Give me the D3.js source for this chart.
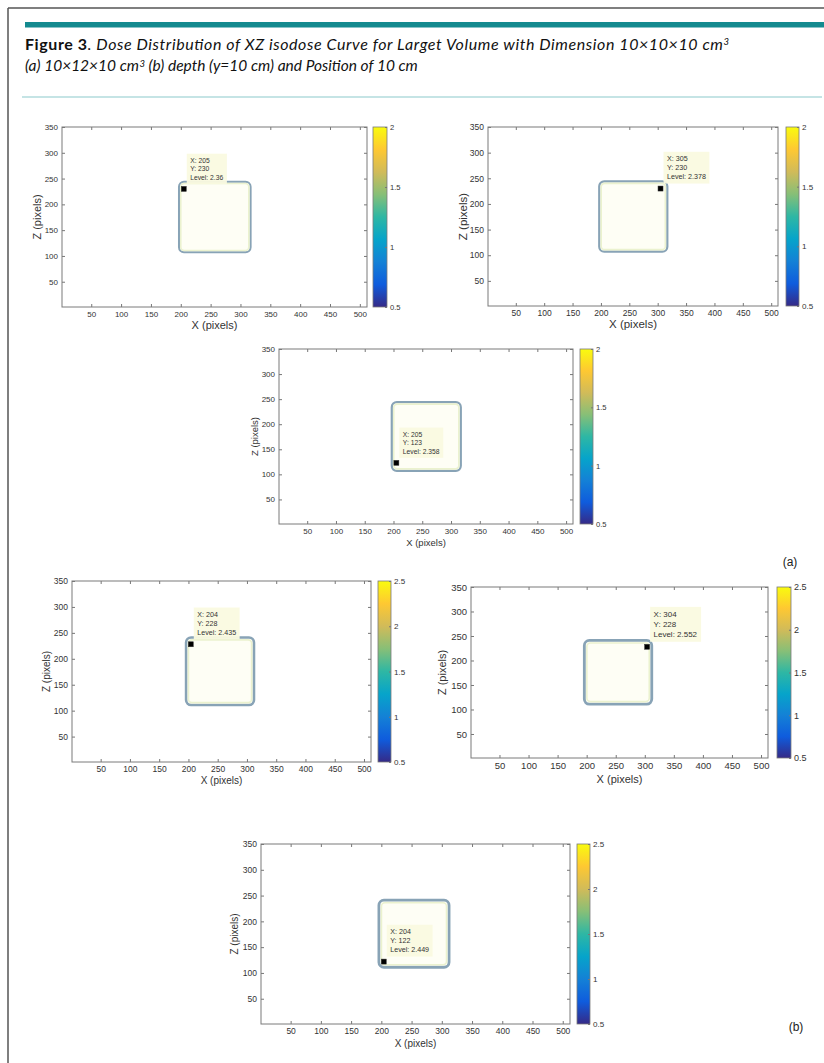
<!DOCTYPE html>
<html>
<head>
<meta charset="utf-8">
<script src="https://cdn.jsdelivr.net/npm/d3@7"></script>
<style>
  html, body { margin: 0; padding: 0; background: #fff; }
  svg { display: block; }
  .tick text { fill: #333; font-family: "Liberation Sans", Arial, sans-serif; }
</style>
</head>
<body>
<div id="chart"></div>
<script>
// Figure 3 - XZ isodose curves, six MATLAB-style contour panels

// ---- data ----
const xTicks = [50, 100, 150, 200, 250, 300, 350, 400, 450, 500];
const zTicks = [50, 100, 150, 200, 250, 300, 350];
const xDomain = [1, 512];
const zDomain = [1, 350];

const panelGroup = ['a', 'a', 'a', 'b', 'b', 'b'];
const tipX = [205, 305, 205, 204, 304, 204];
const tipZ = [230, 230, 123, 228, 228, 122];
const tipLevel = ['2.36', '2.378', '2.358', '2.435', '2.552', '2.449'];

// isodose contour extents (x0, x1) and (z0, z1) for each group
const contourXA = [197, 317];
const contourZA = [107, 244];
const contourXB = [196, 312];
const contourZB = [111, 241];

// colorbar ranges and ticks
const cbarDomainA = [0.5, 2];
const cbarDomainB = [0.5, 2.5];
const cbarTicksA = [0.5, 1, 1.5, 2];
const cbarTicksB = [0.5, 1, 1.5, 2, 2.5];

// parula colormap, bottom to top
const parula = ['#352a87', '#0f5cdd', '#1481d6', '#06a4ca', '#2eb7a4',
                '#87bf77', '#d1bb59', '#fec832', '#f9fb0e'];

const captionBold = 'Figure 3';
const captionLine1 = '. Dose Distribution of XZ isodose Curve for Larget Volume with Dimension 10×10×10 cm';
const captionLine2a = '(a) 10×12×10 cm';
const captionLine2b = ' (b) depth (y=10 cm) and Position of 10 cm';

// ---- layout (pixel boxes of each axes: left, top, right, bottom, colorbar left, right) ----
const layout = [
  { box: [62, 127, 367, 307], cb: [373, 387], fs: 8, lfs: 11, xl: 19, zl: 24, sw: 2 },
  { box: [488, 127, 778, 306], cb: [786, 799], fs: 8.5, lfs: 11.5, xl: 19, zl: 24, sw: 2.2 },
  { box: [279, 349, 573, 524], cb: [580, 593], fs: 8, lfs: 9.5, xl: 19, zl: 24, sw: 2.2 },
  { box: [72, 581, 371, 762], cb: [378, 391], fs: 8.5, lfs: 10, xl: 19.5, zl: 25, sw: 2.6 },
  { box: [471, 587, 768, 758], cb: [777, 791], fs: 9.5, lfs: 11, xl: 22, zl: 28, sw: 2.8 },
  { box: [261, 844, 570, 1024], cb: [577, 590], fs: 8.5, lfs: 10, xl: 20, zl: 26, sw: 2.8 }
];

const width = 824, height = 1063;
const svg = d3.select('#chart').append('svg')
  .attr('width', width)
  .attr('height', height);

// colorbar gradient
const defs = svg.append('defs');
const grad = defs.append('linearGradient')
  .attr('id', 'parula')
  .attr('x1', 0).attr('x2', 0).attr('y1', 1).attr('y2', 0);
grad.selectAll('stop')
  .data(parula)
  .enter().append('stop')
  .attr('offset', (d, i) => i / (parula.length - 1))
  .attr('stop-color', d => d);

// ---- page frame and caption ----
svg.append('line')
  .attr('x1', 8).attr('x2', width).attr('y1', 8).attr('y2', 8)
  .attr('stroke', '#555').attr('stroke-width', 1.5);
svg.append('line')
  .attr('x1', 8).attr('x2', 8).attr('y1', 8).attr('y2', height)
  .attr('stroke', '#555').attr('stroke-width', 1.5);
svg.append('rect')
  .attr('x', 25).attr('y', 22).attr('width', width - 25).attr('height', 5.5)
  .attr('fill', '#148a8f');
svg.append('line')
  .attr('x1', 22).attr('x2', 822).attr('y1', 97).attr('y2', 97)
  .attr('stroke', '#8cc9cc').attr('stroke-width', 1.2);

const capFont = 'Lato, "Open Sans", sans-serif';
const supSize = 9.5;

const cap1 = svg.append('text')
  .attr('x', 25).attr('y', 50)
  .attr('font-family', capFont).attr('font-size', 16).attr('fill', '#111')
  .attr('textLength', 704).attr('lengthAdjust', 'spacing');
cap1.append('tspan').attr('font-weight', 'bold').text(captionBold);
cap1.append('tspan').attr('font-style', 'italic').text(captionLine1);
cap1.append('tspan').attr('font-style', 'italic').attr('font-size', supSize).attr('dy', -5).text('3');

const cap2 = svg.append('text')
  .attr('x', 25).attr('y', 71)
  .attr('font-family', capFont).attr('font-size', 15.5).attr('fill', '#111')
  .attr('font-style', 'italic');
cap2.append('tspan').text(captionLine2a);
cap2.append('tspan').attr('font-size', supSize).attr('dy', -4).attr('dx', 0.5).text('3');
cap2.append('tspan').attr('dy', 4).text(captionLine2b);

// ---- panels ----
layout.forEach((L, i) => {
  const [left, top, right, bottom] = L.box;
  const g = svg.append('g');
  const grp = panelGroup[i];
  const cX = grp === 'a' ? contourXA : contourXB;
  const cZ = grp === 'a' ? contourZA : contourZB;

  const x = d3.scaleLinear().domain(xDomain).range([left, right]);
  const z = d3.scaleLinear().domain(zDomain).range([bottom, top]);

  // plot area
  g.append('rect')
    .attr('x', left).attr('y', top)
    .attr('width', right - left).attr('height', bottom - top)
    .attr('fill', '#fff');

  // isodose contour (rounded square band)
  const cx0 = x(cX[0]), cx1 = x(cX[1]), cz1 = z(cZ[1]), cz0 = z(cZ[0]);
  g.append('rect')
    .attr('x', cx0).attr('y', cz1)
    .attr('width', cx1 - cx0).attr('height', cz0 - cz1)
    .attr('rx', 5).attr('ry', 5)
    .attr('fill', '#fefef5')
    .attr('stroke', '#88a3b6').attr('stroke-width', L.sw);
  g.append('rect')
    .attr('x', cx0 + L.sw * 0.9).attr('y', cz1 + L.sw * 0.9)
    .attr('width', cx1 - cx0 - L.sw * 1.8).attr('height', cz0 - cz1 - L.sw * 1.8)
    .attr('rx', 3.5).attr('ry', 3.5)
    .attr('fill', 'none')
    .attr('stroke', '#ebf2cf').attr('stroke-width', 1.6);

  // axes with inward ticks on all four sides
  const tick = 3;
  const axB = g.append('g')
    .attr('transform', `translate(0,${bottom})`)
    .call(d3.axisBottom(x).tickValues(xTicks).tickSizeInner(-tick).tickSizeOuter(0).tickPadding(4));
  const axT = g.append('g')
    .attr('transform', `translate(0,${top})`)
    .call(d3.axisTop(x).tickValues(xTicks).tickSizeInner(-tick).tickSizeOuter(0).tickFormat(''));
  const axL = g.append('g')
    .attr('transform', `translate(${left},0)`)
    .call(d3.axisLeft(z).tickValues(zTicks).tickSizeInner(-tick).tickSizeOuter(0).tickPadding(4));
  const axR = g.append('g')
    .attr('transform', `translate(${right},0)`)
    .call(d3.axisRight(z).tickValues(zTicks).tickSizeInner(-tick).tickSizeOuter(0).tickFormat(''));
  [axB, axT, axL, axR].forEach(a => {
    a.select('.domain').remove();
    a.selectAll('.tick line').attr('stroke', '#777');
    a.selectAll('.tick text').attr('font-size', L.fs);
  });

  g.append('rect')
    .attr('x', left).attr('y', top)
    .attr('width', right - left).attr('height', bottom - top)
    .attr('fill', 'none').attr('stroke', '#7a7a7a').attr('stroke-width', 1);

  // axis labels
  g.append('text')
    .attr('x', (left + right) / 2).attr('y', bottom + L.xl)
    .attr('text-anchor', 'middle').attr('dominant-baseline', 'middle')
    .attr('font-family', '"Liberation Sans", Arial, sans-serif')
    .attr('font-size', L.lfs).attr('fill', '#333')
    .text('X (pixels)');
  g.append('text')
    .attr('transform', `translate(${left - L.zl},${(top + bottom) / 2}) rotate(-90)`)
    .attr('text-anchor', 'middle').attr('dominant-baseline', 'middle')
    .attr('font-family', '"Liberation Sans", Arial, sans-serif')
    .attr('font-size', L.lfs).attr('fill', '#333')
    .text('Z (pixels)');

  // data tip: black marker plus cream label box
  const mx = x(tipX[i]), my = z(tipZ[i]);
  const tfs = L.fs * 0.84;
  const lines = [`X: ${tipX[i]}`, `Y: ${tipZ[i]}`, `Level: ${tipLevel[i]}`];
  const tip = g.append('g');
  const tipBg = tip.append('rect').attr('fill', '#fafae0').attr('opacity', 0.95);
  const tipText = tip.append('text')
    .attr('font-family', '"Liberation Sans", Arial, sans-serif')
    .attr('font-size', tfs).attr('fill', '#333');
  const lh = tfs * 1.25;
  const pad = 2.5;
  const boxH = lines.length * lh + pad * 2;
  const bx = mx + 3, by = my - 5 - boxH;
  lines.forEach((t, k) => {
    tipText.append('tspan')
      .attr('x', bx + pad + 1)
      .attr('y', by + pad + lh * (k + 0.8))
      .text(t);
  });
  const tw = tipText.node().getBBox().width;
  tipBg.attr('x', bx).attr('y', by).attr('width', tw + pad * 2 + 2).attr('height', boxH);
  g.append('rect')
    .attr('x', mx - 2.5).attr('y', my - 2.5)
    .attr('width', 5).attr('height', 5)
    .attr('fill', '#000').attr('stroke', '#333').attr('stroke-width', 0.5);

  // colorbar
  const [cl, cr] = L.cb;
  const cdom = grp === 'a' ? cbarDomainA : cbarDomainB;
  const cticks = grp === 'a' ? cbarTicksA : cbarTicksB;
  const cs = d3.scaleLinear().domain(cdom).range([bottom, top]);
  g.append('rect')
    .attr('x', cl).attr('y', top)
    .attr('width', cr - cl).attr('height', bottom - top)
    .attr('fill', 'url(#parula)')
    .attr('stroke', '#7a7a7a').attr('stroke-width', 0.8);
  const axC = g.append('g')
    .attr('transform', `translate(${cr},0)`)
    .call(d3.axisRight(cs).tickValues(cticks).tickFormat(d3.format('~g'))
      .tickSizeInner(-2).tickSizeOuter(0).tickPadding(3));
  axC.select('.domain').remove();
  axC.selectAll('.tick line').attr('stroke', '#777');
  axC.selectAll('.tick text').attr('font-size', L.fs * 0.95);
});

// sub-figure tags
svg.append('text')
  .attr('x', 790).attr('y', 563)
  .attr('text-anchor', 'middle').attr('dominant-baseline', 'middle')
  .attr('font-family', '"Liberation Sans", Arial, sans-serif')
  .attr('font-size', 12).attr('fill', '#222')
  .text('(a)');
svg.append('text')
  .attr('x', 796).attr('y', 1028)
  .attr('text-anchor', 'middle').attr('dominant-baseline', 'middle')
  .attr('font-family', '"Liberation Sans", Arial, sans-serif')
  .attr('font-size', 12).attr('fill', '#222')
  .text('(b)');
</script>
</body>
</html>
